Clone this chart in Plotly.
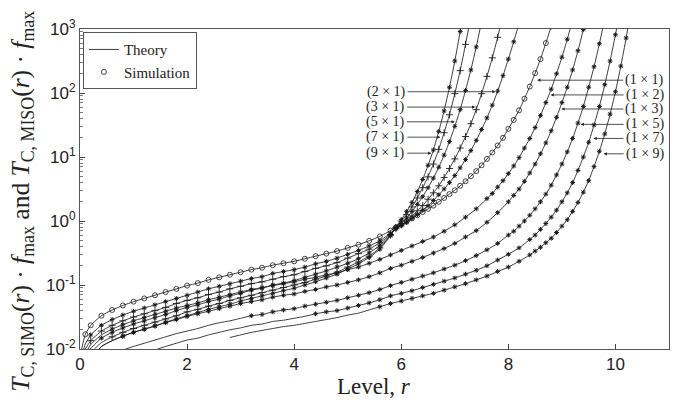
import plotly.graph_objects as go

# ---------------- data ----------------
# level r and log10(T_C(r) * f_max) for every curve; sim_start = first level with a simulation marker
r_1x1 = [0.03, 0.1, 0.2, 0.4, 0.6, 0.8, 1.0, 1.2, 1.4, 1.6, 1.8, 2.0, 2.2, 2.4, 2.6, 2.8, 3.0, 3.2, 3.4, 3.6, 3.8, 4.0,
         4.2, 4.4, 4.6, 4.8, 5.0, 5.2, 5.4, 5.6, 5.8, 5.9, 6.0, 6.1, 6.2, 6.3, 6.4, 6.5, 6.6, 6.7, 6.8, 6.9, 7.0,
         7.1, 7.2, 7.3, 7.4, 7.5, 7.6, 7.7, 7.8, 7.9, 8.0, 8.1, 8.2, 8.3, 8.4, 8.5, 8.6, 8.7, 8.8]
l_1x1 = [-2.0, -1.77, -1.63, -1.48, -1.39, -1.32, -1.26, -1.21, -1.16, -1.11, -1.06, -1.01, -0.97, -0.92, -0.88,
         -0.84, -0.80, -0.76, -0.73, -0.69, -0.66, -0.63, -0.59, -0.55, -0.51, -0.47, -0.42, -0.37, -0.31, -0.24,
         -0.15, -0.10, -0.06, -0.01, 0.04, 0.09, 0.14, 0.19, 0.24, 0.30, 0.36, 0.42, 0.48, 0.55, 0.62, 0.70, 0.78,
         0.87, 0.97, 1.07, 1.18, 1.30, 1.44, 1.58, 1.73, 1.91, 2.10, 2.31, 2.53, 2.78, 3.04]

r_2x1 = [0.07, 0.1, 0.2, 0.4, 0.6, 0.8, 1.0, 1.2, 1.4, 1.6, 1.8, 2.0, 2.2, 2.4, 2.6, 2.8, 3.0, 3.2, 3.4, 3.6, 3.8,
         4.0, 4.2, 4.4, 4.6, 4.8, 5.0, 5.2, 5.4, 5.6, 5.8, 5.9, 6.0, 6.1, 6.2, 6.3, 6.4, 6.5, 6.6, 6.7, 6.8, 6.9,
         7.0, 7.1, 7.2, 7.3, 7.4, 7.5, 7.6, 7.7, 7.8, 7.9, 8.0, 8.1, 8.2]
l_2x1 = [-2.0, -1.92, -1.78, -1.63, -1.54, -1.47, -1.41, -1.36, -1.31, -1.26, -1.21, -1.16, -1.11, -1.06, -1.02,
         -0.98, -0.94, -0.90, -0.87, -0.82, -0.79, -0.76, -0.72, -0.67, -0.63, -0.58, -0.52, -0.46, -0.39, -0.31,
         -0.19, -0.12, -0.07, -0.02, 0.04, 0.10, 0.17, 0.24, 0.32, 0.41, 0.50, 0.60, 0.71, 0.83, 0.96, 1.10, 1.26,
         1.43, 1.61, 1.81, 2.03, 2.27, 2.53, 2.80, 3.09]

r_3x1 = [0.1, 0.2, 0.4, 0.6, 0.8, 1.0, 1.2, 1.4, 1.6, 1.8, 2.0, 2.2, 2.4, 2.6, 2.8, 3.0, 3.2, 3.4, 3.6, 3.8, 4.0,
         4.2, 4.4, 4.6, 4.8, 5.0, 5.2, 5.4, 5.6, 5.8, 5.9, 6.0, 6.1, 6.2, 6.3, 6.4, 6.5, 6.6, 6.7, 6.8, 6.9, 7.0,
         7.1, 7.2, 7.3, 7.4, 7.5, 7.6, 7.7, 7.8, 7.9]
l_3x1 = [-2.0, -1.87, -1.72, -1.63, -1.56, -1.50, -1.45, -1.40, -1.35, -1.29, -1.24, -1.20, -1.15, -1.11, -1.06,
         -1.02, -0.98, -0.95, -0.91, -0.87, -0.84, -0.79, -0.74, -0.70, -0.65, -0.58, -0.51, -0.44, -0.34, -0.21,
         -0.12, -0.06, 0.00, 0.08, 0.16, 0.24, 0.34, 0.44, 0.55, 0.68, 0.82, 0.97, 1.14, 1.32, 1.52, 1.74, 1.99,
         2.26, 2.55, 2.87, 3.22]

r_5x1 = [0.19, 0.4, 0.6, 0.8, 1.0, 1.2, 1.4, 1.6, 1.8, 2.0, 2.2, 2.4, 2.6, 2.8, 3.0, 3.2, 3.4, 3.6, 3.8, 4.0, 4.2,
         4.4, 4.6, 4.8, 5.0, 5.2, 5.4, 5.6, 5.8, 5.9, 6.0, 6.1, 6.2, 6.3, 6.4, 6.5, 6.6, 6.7, 6.8, 6.9, 7.0, 7.1,
         7.2, 7.3, 7.4, 7.5]
l_5x1 = [-2.0, -1.83, -1.74, -1.67, -1.61, -1.56, -1.51, -1.46, -1.40, -1.35, -1.31, -1.26, -1.22, -1.17, -1.13,
         -1.08, -1.05, -1.00, -0.97, -0.93, -0.88, -0.83, -0.78, -0.72, -0.66, -0.59, -0.50, -0.38, -0.22, -0.11,
         -0.04, 0.05, 0.15, 0.26, 0.38, 0.52, 0.67, 0.84, 1.03, 1.24, 1.48, 1.74, 2.04, 2.36, 2.72, 3.12]

r_7x1 = [0.27, 0.4, 0.6, 0.8, 1.0, 1.2, 1.4, 1.6, 1.8, 2.0, 2.2, 2.4, 2.6, 2.8, 3.0, 3.2, 3.4, 3.6, 3.8, 4.0, 4.2,
         4.4, 4.6, 4.8, 5.0, 5.2, 5.4, 5.6, 5.8, 5.9, 6.0, 6.1, 6.2, 6.3, 6.4, 6.5, 6.6, 6.7, 6.8, 6.9, 7.0, 7.1,
         7.2, 7.3]
l_7x1 = [-2.0, -1.90, -1.81, -1.74, -1.68, -1.63, -1.58, -1.53, -1.48, -1.42, -1.38, -1.33, -1.29, -1.24, -1.20,
         -1.16, -1.12, -1.08, -1.04, -1.00, -0.96, -0.91, -0.86, -0.80, -0.72, -0.64, -0.55, -0.42, -0.22, -0.10,
         0.00, 0.10, 0.22, 0.36, 0.52, 0.69, 0.89, 1.12, 1.38, 1.66, 1.99, 2.35, 2.76, 3.20]

r_9x1 = [0.36, 0.4, 0.6, 0.8, 1.0, 1.2, 1.4, 1.6, 1.8, 2.0, 2.2, 2.4, 2.6, 2.8, 3.0, 3.2, 3.4, 3.6, 3.8, 4.0, 4.2,
         4.4, 4.6, 4.8, 5.0, 5.2, 5.4, 5.6, 5.8, 5.9, 6.0, 6.1, 6.2, 6.3, 6.4, 6.5, 6.6, 6.7, 6.8, 6.9, 7.0, 7.1,
         7.2]
l_9x1 = [-2.0, -1.96, -1.87, -1.80, -1.74, -1.69, -1.64, -1.58, -1.53, -1.48, -1.43, -1.38, -1.34, -1.30, -1.25,
         -1.21, -1.17, -1.13, -1.09, -1.05, -1.00, -0.95, -0.89, -0.83, -0.75, -0.67, -0.57, -0.44, -0.23, -0.09,
         0.02, 0.15, 0.29, 0.46, 0.65, 0.87, 1.11, 1.40, 1.72, 2.09, 2.50, 2.96, 3.47]

r_1x2 = [0.15, 0.2, 0.4, 0.6, 0.8, 1.0, 1.2, 1.4, 1.6, 1.8, 2.0, 2.2, 2.4, 2.6, 2.8, 3.0, 3.2, 3.4, 3.6, 3.8, 4.0,
         4.2, 4.4, 4.6, 4.8, 5.0, 5.2, 5.4, 5.6, 5.8, 6.0, 6.2, 6.4, 6.6, 6.8, 7.0, 7.2, 7.4, 7.6, 7.7, 7.8, 7.9,
         8.0, 8.1, 8.2, 8.3, 8.4, 8.5, 8.6, 8.7, 8.8, 8.9, 9.0, 9.1, 9.2]
l_1x2 = [-2.0, -1.93, -1.78, -1.69, -1.62, -1.56, -1.51, -1.46, -1.41, -1.36, -1.32, -1.28, -1.23, -1.19, -1.15,
         -1.11, -1.07, -1.04, -1.01, -0.98, -0.95, -0.91, -0.88, -0.84, -0.81, -0.76, -0.72, -0.66, -0.60, -0.53,
         -0.46, -0.39, -0.32, -0.25, -0.16, -0.06, 0.06, 0.19, 0.35, 0.43, 0.53, 0.63, 0.74, 0.86, 0.99, 1.14,
         1.29, 1.46, 1.65, 1.85, 2.06, 2.30, 2.56, 2.84, 3.14]

r_1x3 = [0.36, 0.4, 0.6, 0.8, 1.0, 1.2, 1.4, 1.6, 1.8, 2.0, 2.2, 2.4, 2.6, 2.8, 3.0, 3.2, 3.4, 3.6, 3.8, 4.0, 4.2,
         4.4, 4.6, 4.8, 5.0, 5.2, 5.4, 5.6, 5.8, 6.0, 6.2, 6.4, 6.6, 6.8, 7.0, 7.2, 7.4, 7.6, 7.8, 8.0, 8.1, 8.2,
         8.3, 8.4, 8.5, 8.6, 8.7, 8.8, 8.9, 9.0, 9.1, 9.2, 9.3, 9.4, 9.5]
l_1x3 = [-2.0, -1.96, -1.87, -1.80, -1.74, -1.69, -1.64, -1.59, -1.54, -1.49, -1.45, -1.41, -1.37, -1.33, -1.29,
         -1.26, -1.23, -1.19, -1.16, -1.14, -1.10, -1.07, -1.03, -1.00, -0.96, -0.92, -0.87, -0.81, -0.74, -0.69,
         -0.63, -0.57, -0.50, -0.43, -0.35, -0.25, -0.15, -0.02, 0.13, 0.30, 0.40, 0.50, 0.62, 0.75, 0.89, 1.05,
         1.22, 1.41, 1.62, 1.85, 2.09, 2.36, 2.66, 2.99, 3.34]

r_1x5 = [0.85, 1.0, 1.2, 1.4, 1.6, 1.8, 2.0, 2.2, 2.4, 2.6, 2.8, 3.0, 3.2, 3.4, 3.6, 3.8, 4.0, 4.2, 4.4, 4.6, 4.8,
         5.0, 5.2, 5.4, 5.6, 5.8, 6.0, 6.2, 6.4, 6.6, 6.8, 7.0, 7.2, 7.4, 7.6, 7.8, 8.0, 8.1, 8.2, 8.3, 8.4, 8.5,
         8.6, 8.7, 8.8, 8.9, 9.0, 9.1, 9.2, 9.3, 9.4, 9.5, 9.6, 9.7, 9.8]
l_1x5 = [-2.0, -1.96, -1.91, -1.86, -1.81, -1.76, -1.72, -1.68, -1.63, -1.59, -1.56, -1.52, -1.48, -1.46, -1.42,
         -1.39, -1.37, -1.33, -1.30, -1.27, -1.24, -1.20, -1.16, -1.12, -1.07, -1.01, -0.96, -0.91, -0.86, -0.81,
         -0.75, -0.69, -0.62, -0.54, -0.45, -0.35, -0.22, -0.16, -0.08, 0.00, 0.09, 0.19, 0.30, 0.42, 0.56, 0.72,
         0.89, 1.08, 1.29, 1.53, 1.79, 2.09, 2.41, 2.77, 3.16]

r_1x7 = [1.45, 1.6, 1.8, 2.0, 2.2, 2.4, 2.6, 2.8, 3.0, 3.2, 3.4, 3.6, 3.8, 4.0, 4.2, 4.4, 4.6, 4.8, 5.0, 5.2, 5.4,
         5.6, 5.8, 6.0, 6.2, 6.4, 6.6, 6.8, 7.0, 7.2, 7.4, 7.6, 7.8, 8.0, 8.2, 8.4, 8.5, 8.6, 8.7, 8.8, 8.9, 9.0,
         9.1, 9.2, 9.3, 9.4, 9.5, 9.6, 9.7, 9.8, 9.9, 10.0, 10.1]
l_1x7 = [-2.0, -1.96, -1.91, -1.86, -1.83, -1.78, -1.74, -1.70, -1.67, -1.63, -1.61, -1.57, -1.55, -1.52, -1.49,
         -1.45, -1.42, -1.40, -1.36, -1.32, -1.28, -1.23, -1.17, -1.13, -1.09, -1.04, -0.99, -0.94, -0.89, -0.83,
         -0.77, -0.70, -0.61, -0.52, -0.42, -0.29, -0.22, -0.13, -0.04, 0.06, 0.17, 0.30, 0.44, 0.60, 0.79, 1.00,
         1.23, 1.50, 1.79, 2.13, 2.50, 2.91, 3.37]

r_1x9 = [2.8, 3.0, 3.2, 3.4, 3.6, 3.8, 4.0, 4.2, 4.4, 4.6, 4.8, 5.0, 5.2, 5.4, 5.6, 5.8, 6.0, 6.2, 6.4, 6.6, 6.8,
         7.0, 7.2, 7.4, 7.6, 7.8, 8.0, 8.2, 8.4, 8.5, 8.6, 8.7, 8.8, 8.9, 9.0, 9.1, 9.2, 9.3, 9.4, 9.5, 9.6, 9.7,
         9.8, 9.9, 10.0, 10.1, 10.2, 10.3]
l_1x9 = [-1.82, -1.78, -1.74, -1.71, -1.68, -1.65, -1.63, -1.60, -1.57, -1.54, -1.51, -1.47, -1.44, -1.39, -1.34,
         -1.29, -1.25, -1.21, -1.17, -1.13, -1.08, -1.03, -0.98, -0.92, -0.86, -0.79, -0.72, -0.63, -0.53, -0.47,
         -0.41, -0.34, -0.27, -0.18, -0.08, 0.02, 0.15, 0.29, 0.45, 0.63, 0.85, 1.09, 1.36, 1.67, 2.02, 2.42, 2.86,
         3.36]

curve_names = ["1x1", "2x1", "3x1", "5x1", "7x1", "9x1", "1x2", "1x3", "1x5", "1x7", "1x9"]
curve_r = [r_1x1, r_2x1, r_3x1, r_5x1, r_7x1, r_9x1, r_1x2, r_1x3, r_1x5, r_1x7, r_1x9]
curve_l = [l_1x1, l_2x1, l_3x1, l_5x1, l_7x1, l_9x1, l_1x2, l_1x3, l_1x5, l_1x7, l_1x9]
sim_start = [0.1, 0.2, 0.2, 0.4, 0.6, 0.8, 0.6, 0.8, 3.2, 4.4, 5.6]
symbols = ["circle-open", "asterisk-open", "cross-thin-open", "asterisk-open", "cross-thin-open", "asterisk-open",
           "asterisk-open", "asterisk-open", "asterisk-open", "asterisk-open", "asterisk-open"]

simo_labels = ["(2 × 1)", "(3 × 1)", "(5 × 1)", "(7 × 1)", "(9 × 1)"]
simo_tip_r = [7.76, 7.38, 7.0, 6.73, 6.56]
simo_tip_l = [2.02, 1.78, 1.55, 1.31, 1.06]
miso_labels = ["(1 × 1)", "(1 × 2)", "(1 × 3)", "(1 × 5)", "(1 × 7)", "(1 × 9)"]
miso_tip_r = [8.54, 8.79, 8.99, 9.35, 9.59, 9.78]
miso_tip_l = [2.2, 1.97, 1.75, 1.51, 1.29, 1.05]

# ---------------- figure ----------------
INK = "#1a1a1a"
fig = go.Figure()
for i, (rv, lv) in enumerate(zip(curve_r, curve_l)):
    fig.add_trace(go.Scatter(x=rv, y=[10 ** v for v in lv], mode="lines",
                             line=dict(color=INK, width=0.85, shape="spline", smoothing=0.5),
                             name="Theory", showlegend=(i == 0), hoverinfo="skip"))
for i, (rv, lv) in enumerate(zip(curve_r, curve_l)):
    xs = [a for a in rv if a >= sim_start[i] - 1e-9]
    ys = [10 ** b for a, b in zip(rv, lv) if a >= sim_start[i] - 1e-9]
    sym = symbols[i]
    if sym == "circle-open":
        mk = dict(symbol=sym, size=5, color=INK, line=dict(width=0.8, color=INK))
    elif sym == "cross-thin-open":
        mk = dict(symbol=sym, size=5, color=INK, line=dict(width=0.9, color=INK))
    else:
        mk = dict(symbol=sym, size=4, color=INK, line=dict(width=1.0, color=INK))
    fig.add_trace(go.Scatter(x=xs, y=ys, mode="markers", marker=mk,
                             name="Simulation", showlegend=(i == 0), hoverinfo="skip"))

serif = "Liberation Serif"
ann = []
for txt, hx, hl, ax in zip(simo_labels, simo_tip_r, simo_tip_l, [-88, -68, -48, -33, -24]):
    ann.append(dict(x=hx, y=hl, xref="x", yref="y", ax=ax, ay=0, text=txt, showarrow=True,
                    arrowhead=2, arrowsize=0.8, arrowwidth=0.8, arrowcolor="#222", xanchor="right",
                    font=dict(family=serif, size=14, color="#222")))
for txt, hx, hl, ax in zip(miso_labels, miso_tip_r, miso_tip_l, [86, 73, 62, 43, 30, 20]):
    ann.append(dict(x=hx, y=hl, xref="x", yref="y", ax=ax, ay=0, text=txt, showarrow=True,
                    arrowhead=2, arrowsize=0.8, arrowwidth=0.8, arrowcolor="#222", xanchor="left",
                    font=dict(family=serif, size=14, color="#222")))
ann.append(dict(x=0.499, y=-0.118, xref="paper", yref="paper", showarrow=False, xanchor="center", yanchor="middle",
                text="Level, <i>r</i>", font=dict(family=serif, size=23, color="#222")))
ann.append(dict(x=-0.099, y=0.4625, xref="paper", yref="paper", showarrow=False, xanchor="center", yanchor="middle",
                textangle=-90,
                text="<i>T</i><sub>C, SIMO</sub>(<i>r</i>) · <i>f</i><sub>max</sub> and <i>T</i><sub>C, MISO</sub>(<i>r</i>) · <i>f</i><sub>max</sub>",
                font=dict(family=serif, size=25.5, color="#222")))

fig.update_layout(
    width=682, height=402, margin=dict(l=80, r=13, t=29, b=53),
    paper_bgcolor="white", plot_bgcolor="white",
    annotations=ann,
    legend=dict(x=0.005, y=0.99, xanchor="left", yanchor="top", bgcolor="white",
                bordercolor="#555", borderwidth=1, font=dict(family=serif, size=15, color="#222"),
                tracegroupgap=0, itemwidth=30),
    xaxis=dict(range=[0, 11], dtick=2, tick0=0, ticks="inside", ticklen=5, tickcolor="#444",
               showline=True, linecolor="#555", linewidth=1, mirror=True, showgrid=False, zeroline=False,
               tickfont=dict(family="Liberation Sans", size=17, color="#222")),
    yaxis=dict(type="log", range=[-2, 3], tickvals=[0.01, 0.1, 1, 10, 100, 1000],
               ticktext=["10<sup>-2</sup>", "10<sup>-1</sup>", "10<sup>0</sup>", "10<sup>1</sup>", "10<sup>2</sup>", "10<sup>3</sup>"],
               ticks="inside", ticklen=5, tickcolor="#444",
               minor=dict(ticks="inside", ticklen=3, tickcolor="#777", dtick="D1", showgrid=False),
               showline=True, linecolor="#555", linewidth=1, mirror=True, showgrid=False, zeroline=False,
               tickfont=dict(family="Liberation Sans", size=17, color="#222")),
)
fig.write_html("out.html", config={"displayModeBar": False},
               post_script="document.body.style.margin='0';")
